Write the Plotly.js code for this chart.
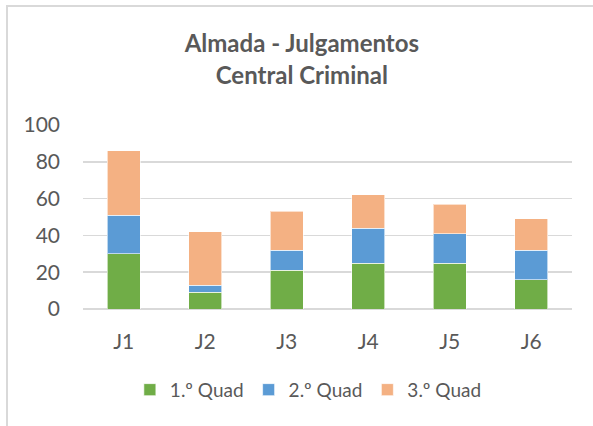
<!DOCTYPE html>
<html>
<head>
<meta charset="utf-8">
<script src="https://cdn.plot.ly/plotly-3.0.1.min.js"></script>
<style>
  html, body { margin: 0; padding: 0; background: #fff; }
  #wrap { position: relative; width: 593px; height: 426px; overflow: hidden; }
  #frame { position: absolute; left: 6px; top: 5px; width: 700px; height: 600px;
           border-left: 2px solid #D9D9D9; border-top: 2px solid #D9D9D9; pointer-events: none; }
  #chart { position: absolute; left: 0; top: 0; width: 593px; height: 426px; }
</style>
</head>
<body>
<div id="wrap">
  <div id="chart"></div>
  <div id="frame"></div>
</div>
<script>
const categories = ["J1", "J2", "J3", "J4", "J5", "J6"];
const quad1 = [30, 9, 21, 25, 25, 16];
const quad2 = [21, 4, 11, 19, 16, 16];
const quad3 = [35, 29, 21, 18, 16, 17];
const seriesNames = ["1.º Quad", "2.º Quad", "3.º Quad"];
const yTicks = [0, 20, 40, 60, 80, 100];

const colors = ["#70AD47", "#5B9BD5", "#F4B183"];
const font = "Lato, 'Open Sans', sans-serif";

const traces = [quad1, quad2, quad3].map((vals, i) => ({
  type: "bar",
  name: seriesNames[i],
  x: categories,
  y: vals,
  marker: { color: colors[i], line: { color: "rgba(255,255,255,0.6)", width: 1 } },
  hoverinfo: "x+y+name"
}));

const layout = {
  width: 593, height: 426,
  margin: { l: 83, r: 21, t: 125, b: 117, pad: 0 },
  paper_bgcolor: "rgba(0,0,0,0)",
  plot_bgcolor: "rgba(0,0,0,0)",
  barmode: "stack",
  bargap: 0.6,
  font: { family: font, color: "#595959" },
  title: {
    text: "<b>Almada - Julgamentos</b><br><b>Central Criminal</b>",
    font: { family: font, size: 24, color: "#595959" },
    x: 0.509, xanchor: "center", xref: "container",
    y: 0.877, yanchor: "middle", yref: "container"
  },
  xaxis: {
    type: "category",
    showgrid: false, zeroline: false, showline: false,
    ticks: "", tickfont: { size: 21, color: "#595959", family: font },
    ticklabelstandoff: 18
  },
  yaxis: {
    range: [0, 100],
    tickvals: yTicks,
    ticktext: yTicks.map(String),
    showgrid: true, gridcolor: "#D9D9D9", gridwidth: 1.5,
    zeroline: true, zerolinecolor: "#D9D9D9", zerolinewidth: 1.5,
    showline: false, ticks: "",
    tickfont: { size: 21, color: "#595959", family: font },
    ticklabelstandoff: 22
  },
  showlegend: true,
  legend: {
    orientation: "h",
    x: 0.52, xanchor: "center", xref: "container",
    y: 0.085, yanchor: "middle", yref: "container",
    font: { size: 19, color: "#595959", family: font },
    itemwidth: 30,
    traceorder: "normal"
  }
};

Plotly.newPlot("chart", traces, layout, { displayModeBar: false, staticPlot: true });
</script>
</body>
</html>
